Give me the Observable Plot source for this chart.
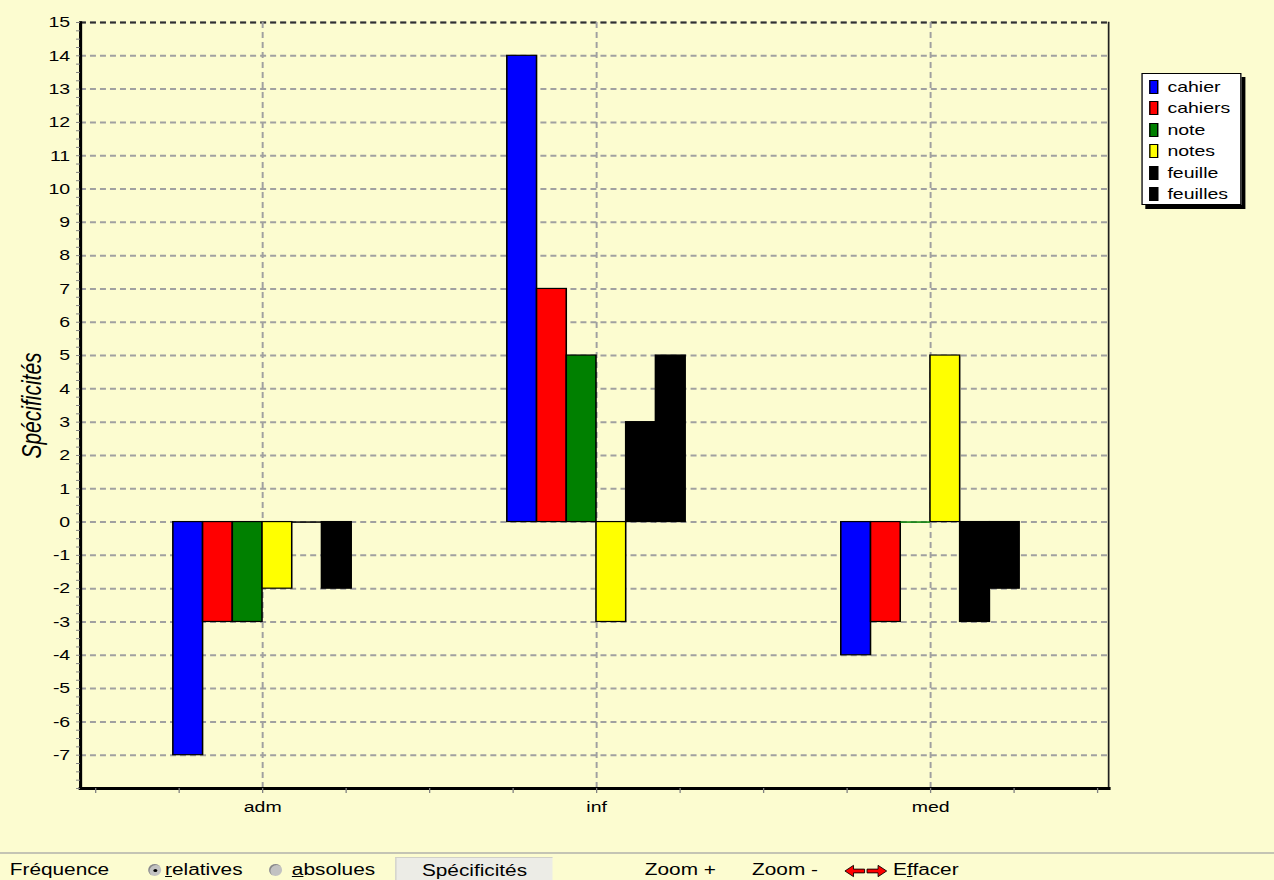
<!DOCTYPE html>
<html><head><meta charset="utf-8">
<script src="https://cdn.jsdelivr.net/npm/d3@7"></script>
<script src="https://cdn.jsdelivr.net/npm/@observablehq/plot@0.6"></script>
<style>
html,body{margin:0;padding:0;background:#fcfcd0;overflow:hidden;}
#wrap{position:relative;width:980px;height:880px;transform:scaleX(1.3);transform-origin:0 0;font-family:"Liberation Sans",Arial,sans-serif;color:#000;}
#chart{position:absolute;left:0;top:0;}
#legend{position:absolute;left:878px;top:73px;width:75px;height:130px;background:#fff;border:1px solid #000;box-shadow:3px 4px 0 #000;}
#legend .item{position:absolute;left:5px;height:16px;font-size:15px;line-height:16px;white-space:nowrap;}
#legend .sw{position:absolute;left:0;top:1px;width:5px;height:12px;border:1px solid #000;}
#legend .lab{position:absolute;left:14px;top:0;}
#toolbar{position:absolute;left:0;top:852px;width:980px;height:28px;border-top:2px solid #c4c4b4;font-size:16px;}
#toolbar .t{position:absolute;top:7px;line-height:18px;white-space:nowrap;}
#toolbar .radio{position:absolute;top:10px;width:10px;height:12px;border-radius:50%;background:#c2c2c2;box-shadow:inset 1px 1px 0 #888;}
#toolbar .dot{position:absolute;left:3.5px;top:4.5px;width:3px;height:3px;border-radius:50%;background:#000;}
#toolbar .btn{position:absolute;left:304px;top:3px;width:120px;height:26px;background:#ecece6;border-top:1px solid #d0d0c8;border-left:1px solid #d0d0c8;text-align:center;}
#toolbar .btn span{position:relative;top:4px;line-height:18px;}
</style></head><body>
<div id="wrap"><div id="chart"></div><div id="legend"></div><div id="toolbar"></div></div>
<script>
const categories = ["adm", "inf", "med"];
const series = ["cahier", "cahiers", "note", "notes", "feuille", "feuilles"];
const colors = ["#0000ff", "#ff0000", "#008000", "#ffff00", "#000000", "#000000"];
const admValues = [-7, -3, -3, -2, 0, -2];
const infValues = [14, 7, 5, -3, 3, 5];
const medValues = [-4, -3, 0, 5, -3, -2];
const yTicks = d3.range(-7, 16);
const yLabel = "Spécificités";

const valuesByCategory = [admValues, infValues, medValues];
const barFrac = 0.089; // width of one bar in category units
const rows = [];
categories.forEach((c, ci) => {
  series.forEach((s, si) => {
    rows.push({category: c, ci, series: s, si, value: valuesByCategory[ci][si]});
  });
});
const bx1 = d => d.ci + (d.si - 3) * barFrac;
const bx2 = d => d.ci + (d.si - 2) * barFrac;

const plot = Plot.plot({
  width: 980,
  height: 852,
  marginLeft: 61.5,
  marginRight: 127.7,
  marginTop: 22,
  marginBottom: 64,
  style: {background: "transparent", fontFamily: "'Liberation Sans', Arial, sans-serif", fontSize: "15px", color: "#000", overflow: "visible"},
  x: {domain: [-0.5, 2.5], insetLeft: 11.6, insetRight: 8.5},
  y: {domain: [-8, 15]},
  color: {domain: series, range: colors},
  marks: [
    Plot.ruleY(yTicks, {stroke: "#a0a0a0", strokeWidth: 2, strokeDasharray: "4.6,3.1"}),
    Plot.ruleY([15], {stroke: "#303030", strokeWidth: 2, strokeDasharray: "4.6,3.1"}),
    Plot.ruleX([0, 1, 2], {stroke: "#a0a0a0", strokeWidth: 1.5, strokeDasharray: "6,4"}),
    Plot.rectY(rows.filter(d => d.value !== 0), {x1: bx1, x2: bx2, y1: 0, y2: "value", fill: "series", stroke: "#000", strokeWidth: 1.2}),
    Plot.ruleY(rows.filter(d => d.value === 0), {x1: bx1, x2: bx2, y: 0, stroke: "series", strokeWidth: 1.5}),
    Plot.frame({anchor: "right", stroke: "#202020", strokeWidth: 1.3}),
    Plot.frame({anchor: "left", stroke: "#000", strokeWidth: 2.4}),
    Plot.frame({anchor: "bottom", stroke: "#000", strokeWidth: 3}),
    Plot.axisY({ticks: d3.range(-8, 15.01, 0.25), tickSize: 3, stroke: "#808080", fill: "none", label: null}),
    Plot.axisY({ticks: yTicks, tickSize: 0, tickPadding: 8, fontSize: 15, tickFormat: d => String(d), label: null}),
    Plot.axisX({ticks: d3.range(-0.5, 2.51, 0.25), tickSize: 5, stroke: "#808080", fill: "none", label: null}),
    Plot.axisX({ticks: [0, 1, 2], tickSize: 0, tickPadding: 13, tickFormat: i => categories[i], fontSize: 15, label: null}),
    Plot.text([yLabel], {text: d => d, frameAnchor: "left", textAnchor: "middle", rotate: -90, dx: -37, fontStyle: "italic", fontSize: 21})
  ]
});
document.getElementById("chart").appendChild(plot);

// legend
const legend = document.getElementById("legend");
series.forEach((s, i) => {
  const item = document.createElement("div");
  item.className = "item";
  item.style.top = (5 + i * 21.4) + "px";
  item.innerHTML = `<span class="sw" style="background:${colors[i]}"></span><span class="lab">${s}</span>`;
  legend.appendChild(item);
});

// toolbar
const tb = document.getElementById("toolbar");
tb.innerHTML = `
<span class="t" style="left:7.5px">Fréquence</span>
<span class="radio" style="left:114px"><span class="dot"></span></span>
<span class="t" style="left:127px"><u>r</u>elatives</span>
<span class="radio" style="left:207px"></span>
<span class="t" style="left:224.5px"><u>a</u>bsolues</span>
<span class="btn"><span>Spécificités</span></span>
<span class="t" style="left:496px">Zoom +</span>
<span class="t" style="left:578.5px">Zoom -</span>
<svg style="position:absolute;left:649px;top:10px" width="34" height="14" viewBox="0 0 36 14">
  <polygon points="1,7 8,1 8,5 17,5 17,9 8,9 8,13" fill="#ff0000" stroke="#000" stroke-width="0.8"/>
  <polygon points="35,7 28,1 28,5 19,5 19,9 28,9 28,13" fill="#ff0000" stroke="#000" stroke-width="0.8"/>
</svg>
<span class="t" style="left:687px">E<u>f</u>facer</span>
`;
</script>
</body></html>
